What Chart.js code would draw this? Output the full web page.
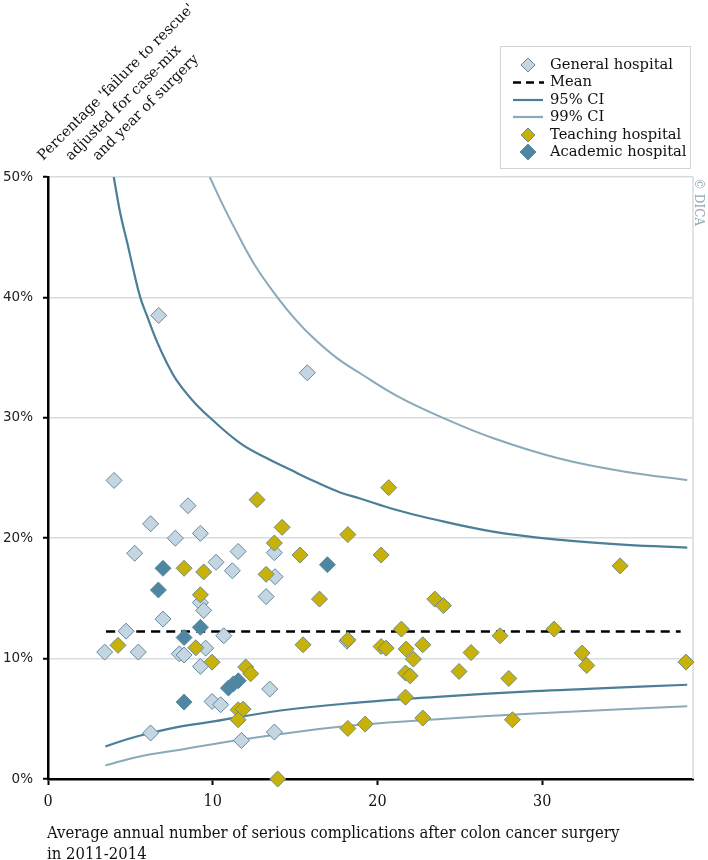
<!DOCTYPE html>
<html>
<head>
<meta charset="utf-8">
<script src="https://cdn.jsdelivr.net/npm/chart.js@4.4.1/dist/chart.umd.min.js"></script>
<style>
  html, body { margin: 0; padding: 0; background: #fff; }
  #wrap { position: relative; width: 708px; height: 860px; }
</style>
</head>
<body>
<div id="wrap"><canvas id="chart"></canvas></div>
<script>
// data
// x: average annual number of serious complications, y: % failure to rescue
const generalX = [4.01, 8.5, 6.23, 9.25, 7.73, 5.26, 11.54, 10.2, 11.19, 13.74, 13.78, 13.24, 9.25, 9.45, 6.98, 4.74,
                  10.67, 3.44, 5.48, 7.97, 8.26, 9.57, 9.25, 13.46, 9.96, 10.48, 6.23, 11.74, 13.74, 6.72, 15.74, 18.15];
const generalY = [24.8, 22.7, 21.2, 20.4, 20.0, 18.75, 18.9, 18.0, 17.3, 18.8, 16.8, 15.15, 14.65, 14.0, 13.28, 12.28,
                  11.9, 10.54, 10.54, 10.4, 10.3, 10.87, 9.35, 7.47, 6.44, 6.17, 3.82, 3.2, 3.9, 38.5, 33.74, 11.45];

const teachingX = [12.69, 14.21, 13.74, 15.3, 8.26, 9.45, 13.24, 16.48, 9.25, 4.25, 8.97, 15.48, 9.96, 12.0, 12.3, 11.54,
                   11.84, 11.54, 13.94, 20.68, 18.2, 20.22, 34.73, 23.48, 24.0, 21.45, 30.72, 27.44, 18.2, 20.22, 20.52,
                   21.74, 22.75, 22.18, 25.68, 32.42, 32.7, 38.72, 21.7, 21.98, 24.95, 27.97, 21.7, 22.75, 28.19, 18.2, 19.25];
const teachingY = [23.2, 20.9, 19.6, 18.6, 17.5, 17.2, 17.0, 14.94, 15.3, 11.1, 10.9, 11.15, 9.7, 9.3, 8.74, 5.75,
                   5.8, 4.92, 0.0, 24.2, 20.3, 18.6, 17.7, 14.94, 14.4, 12.45, 12.45, 11.9, 11.56, 11.0, 10.87,
                   10.79, 11.15, 9.96, 10.5, 10.46, 9.43, 9.71, 8.8, 8.57, 8.93, 8.35, 6.8, 5.06, 4.92, 4.2, 4.56];

const academicX = [6.98, 6.7, 9.25, 8.26, 8.26, 10.95, 11.25, 11.55, 16.96];
const academicY = [17.5, 15.7, 12.6, 11.75, 6.39, 7.55, 7.9, 8.16, 17.8];

const meanX = [3.52, 38.4];
const meanY = [12.25, 12.25];

// funnel limits, points
const ci95UpX = [3.99, 4.4, 4.8, 5.2, 5.6, 6.0, 6.62, 7.2, 7.81, 8.8, 9.84, 11.66, 13.2, 14.69, 16.2, 17.73, 18.94, 21.0, 23.0, 27.0, 31.1, 35.1, 38.8];
const ci95UpY = [50.0, 46.9, 44.6, 42.2, 40.0, 38.5, 36.3, 34.6, 33.1, 31.4, 30.0, 27.9, 26.7, 25.7, 24.7, 23.8, 23.3, 22.4, 21.7, 20.55, 19.86, 19.44, 19.22];
const ci99UpX = [9.82, 10.5, 11.27, 12.5, 13.9, 15.0, 16.13, 17.5, 18.94, 21.2, 23.8, 27.04, 31.09, 35.14, 38.8];
const ci99UpY = [50.0, 48.0, 45.9, 42.8, 40.05, 38.2, 36.6, 35.0, 33.7, 31.8, 30.1, 28.3, 26.6, 25.5, 24.84];
const ci95LoX = [3.48, 4.8, 6.21, 8.0, 10.06, 14.1, 18.94, 23.4, 29.5, 33.1, 38.8];
const ci95LoY = [2.7, 3.3, 3.82, 4.35, 4.78, 5.69, 6.36, 6.8, 7.3, 7.5, 7.83];
const ci99LoX = [3.48, 5.5, 8.03, 11.68, 15.3, 18.94, 23.4, 29.5, 38.8];
const ci99LoY = [1.13, 1.85, 2.43, 3.26, 3.95, 4.5, 4.95, 5.45, 6.05];

const xTicks = [0, 10, 20, 30];
const yTicks = [0, 10, 20, 30, 40, 50];

const xyPairs = (xs, ys) => xs.map((x, i) => ({ x: x, y: ys[i] }));

const COL_GENERAL = '#c4d6e1';
const COL_GENERAL_EDGE = '#66889b';
const COL_TEACH = '#c8b20a';
const COL_TEACH_EDGE = '#6e8a8a';
const COL_ACAD = '#4f86a1';
const COL_ACAD_EDGE = '#5c8aa0';
const COL_95 = '#4b7e97';
const COL_99 = '#8aa9b9';

const serif = "'DejaVu Serif'";
const serifCond = "'DejaVu Serif Condensed', 'DejaVu Serif'";

function diamond(ctx, x, y, r, fill, edge) {
    ctx.beginPath();
    ctx.moveTo(x - r, y);
    ctx.lineTo(x, y - r);
    ctx.lineTo(x + r, y);
    ctx.lineTo(x, y + r);
    ctx.closePath();
    ctx.fillStyle = fill;
    ctx.fill();
    ctx.lineWidth = 1;
    ctx.strokeStyle = edge;
    ctx.stroke();
}

// extra drawing: right border, legend, axis titles, copyright
const decor = {
    id: 'decor',
    beforeDatasetsDraw(chart) {
        const { ctx, chartArea: a } = chart;
        ctx.save();
        ctx.strokeStyle = '#d3dbe0';
        ctx.lineWidth = 1.5;
        ctx.beginPath();
        ctx.moveTo(a.right, a.top);
        ctx.lineTo(a.right, a.bottom);
        ctx.stroke();
        ctx.restore();
    },
    afterDraw(chart) {
        const ctx = chart.ctx;
        ctx.save();

        // legend
        ctx.fillStyle = '#fff';
        ctx.fillRect(500, 46, 190, 122);
        ctx.strokeStyle = '#cfd6da';
        ctx.lineWidth = 1;
        ctx.strokeRect(500.5, 46.5, 190, 122);
        const rows = [65, 82.5, 100, 117, 135, 152];
        const labels = ['General hospital', 'Mean', '95% CI', '99% CI', 'Teaching hospital', 'Academic hospital'];
        diamond(ctx, 528, rows[0], 7, COL_GENERAL, COL_GENERAL_EDGE);
        ctx.lineWidth = 2.5;
        ctx.strokeStyle = '#000';
        ctx.setLineDash([8, 5]);
        ctx.beginPath(); ctx.moveTo(513, rows[1]); ctx.lineTo(544, rows[1]); ctx.stroke();
        ctx.setLineDash([]);
        ctx.lineWidth = 2.2;
        ctx.strokeStyle = COL_95;
        ctx.beginPath(); ctx.moveTo(513, rows[2]); ctx.lineTo(543, rows[2]); ctx.stroke();
        ctx.strokeStyle = COL_99;
        ctx.beginPath(); ctx.moveTo(513, rows[3]); ctx.lineTo(543, rows[3]); ctx.stroke();
        diamond(ctx, 528, rows[4], 7, COL_TEACH, COL_TEACH_EDGE);
        diamond(ctx, 528, rows[5], 8, COL_ACAD, COL_ACAD_EDGE);
        ctx.fillStyle = '#111';
        ctx.font = '14.7px ' + serif;
        ctx.textBaseline = 'middle';
        ctx.textAlign = 'left';
        labels.forEach((t, i) => ctx.fillText(t, 550, rows[i]));

        // rotated y title
        ctx.font = '14.4px ' + serif;
        ctx.textBaseline = 'alphabetic';
        const yTitle = ["Percentage 'failure to rescue'", 'adjusted for case-mix', 'and year of surgery'];
        const starts = [[43, 161], [71, 161], [98, 161]];
        yTitle.forEach((t, i) => {
            ctx.save();
            ctx.translate(starts[i][0], starts[i][1]);
            ctx.rotate(-Math.PI / 4);
            ctx.fillText(t, 0, 0);
            ctx.restore();
        });

        // x title
        ctx.font = '16.5px ' + serifCond;
        ctx.fillStyle = '#111';
        ctx.fillText('Average annual number of serious complications after colon cancer surgery', 47, 838);
        ctx.fillText('in 2011-2014', 47, 859);

        // copyright
        ctx.save();
        ctx.translate(698, 178);
        ctx.rotate(Math.PI / 2);
        ctx.font = '12px ' + serif;
        ctx.fillStyle = '#8ea8b6';
        ctx.textBaseline = 'middle';
        ctx.fillText('\u00a9 DICA', 0, 0);
        ctx.restore();

        ctx.restore();
    }
};

const lineStyle = (color, width) => ({
    type: 'line',
    borderColor: color,
    borderWidth: width,
    pointRadius: 0,
    fill: false,
    tension: 0.4,
    order: 10
});

new Chart(document.getElementById('chart'), {
    type: 'scatter',
    data: {
        datasets: [
            { label: 'Teaching hospital', data: xyPairs(teachingX, teachingY), pointStyle: 'rectRot', pointRadius: 8,
              backgroundColor: COL_TEACH, borderColor: COL_TEACH_EDGE, borderWidth: 1, order: 1, clip: false },
            { label: 'Academic hospital', data: xyPairs(academicX, academicY), pointStyle: 'rectRot', pointRadius: 8,
              backgroundColor: COL_ACAD, borderColor: COL_ACAD_EDGE, borderWidth: 1, order: 2, clip: false },
            { label: 'General hospital', data: xyPairs(generalX, generalY), pointStyle: 'rectRot', pointRadius: 8,
              backgroundColor: COL_GENERAL, borderColor: COL_GENERAL_EDGE, borderWidth: 1, order: 3, clip: false },
            Object.assign({ label: 'Mean', data: xyPairs(meanX, meanY), borderDash: [9, 6] }, lineStyle('#000', 2.5)),
            Object.assign({ label: '95% CI', data: xyPairs(ci95UpX, ci95UpY) }, lineStyle(COL_95, 2.2)),
            Object.assign({ label: '95% CI low', data: xyPairs(ci95LoX, ci95LoY) }, lineStyle(COL_95, 2.2)),
            Object.assign({ label: '99% CI', data: xyPairs(ci99UpX, ci99UpY) }, lineStyle(COL_99, 2)),
            Object.assign({ label: '99% CI low', data: xyPairs(ci99LoX, ci99LoY) }, lineStyle(COL_99, 2))
        ]
    },
    options: {
        responsive: true,
        maintainAspectRatio: false,
        animation: false,
        layout: { padding: { left: 0, top: 177, right: 15, bottom: 0 } },
        plugins: { legend: { display: false }, tooltip: { enabled: false } },
        scales: {
            x: {
                type: 'linear',
                min: 0,
                max: 39.15,
                afterFit: s => { s.height = 81; },
                afterBuildTicks: s => { s.ticks = xTicks.map(v => ({ value: v })); },
                border: { color: '#000', width: 2.5 },
                grid: { drawOnChartArea: false, tickColor: '#000', tickLength: 6, tickWidth: 2 },
                ticks: { color: '#111', padding: 7, font: { family: serifCond, size: 16 } }
            },
            y: {
                min: 0,
                max: 50,
                afterFit: s => { s.width = 48; },
                afterBuildTicks: s => { s.ticks = yTicks.map(v => ({ value: v })); },
                border: { color: '#000', width: 2.5 },
                grid: { color: '#d5dde2', lineWidth: 1.5, tickColor: '#000', tickLength: 5, tickWidth: 2 },
                ticks: { color: '#222', padding: 10, font: { family: "'DejaVu Sans'", size: 13.5 },
                         callback: v => v + '%' }
            }
        }
    },
    plugins: [decor]
});
</script>
</body>
</html>
